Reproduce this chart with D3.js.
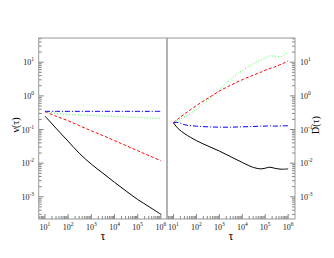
<!DOCTYPE html>
<html><head><meta charset="utf-8">
<script src="https://cdn.jsdelivr.net/npm/d3@7"></script>
<style>body{margin:0;background:#fff}svg{display:block}text{font-family:"Liberation Serif","DejaVu Serif",serif}</style>
</head><body>
<script>
// log10(tau) sample positions
const logTauL = [1,1.5,2,2.5,3,3.5,4,4.5,5,5.5,6];
// left panel: nu(tau), log10 values
const nuBlack = [-0.60,-0.98,-1.35,-1.72,-2.03,-2.30,-2.57,-2.83,-3.08,-3.30,-3.52];
const nuRed   = [-0.47,-0.61,-0.74,-0.89,-1.04,-1.18,-1.33,-1.48,-1.63,-1.78,-1.93];
const nuGreen = [-0.46,-0.52,-0.55,-0.57,-0.58,-0.60,-0.61,-0.63,-0.64,-0.66,-0.67];
const nuBlue  = [-0.46,-0.46,-0.46,-0.46,-0.46,-0.46,-0.46,-0.46,-0.46,-0.46,-0.46];
// right panel: D(tau)
const logTauR = [1,1.2,1.5,2,2.5,3,3.5,4,4.5,4.8,5,5.2,5.4,5.7,6];
const dBlack = [-0.80,-0.97,-1.13,-1.33,-1.49,-1.64,-1.81,-1.98,-2.13,-2.17,-2.15,-2.12,-2.15,-2.18,-2.17];
const dRed   = [-0.80,-0.68,-0.53,-0.29,-0.07,0.14,0.32,0.48,0.62,0.70,0.76,0.81,0.86,0.94,1.04];
const dGreen = [-0.80,-0.72,-0.62,-0.40,-0.12,0.17,0.50,0.75,0.96,1.06,1.12,1.19,1.18,1.16,1.30];
const dBlue  = [-0.80,-0.79,-0.86,-0.90,-0.92,-0.93,-0.93,-0.92,-0.91,-0.90,-0.90,-0.89,-0.90,-0.89,-0.89];
const xTicks = [1,2,3,4,5,6];
const yTicks = [-3,-2,-1,0,1];

const W=334,H=258;
const svg=d3.select("body").append("svg").attr("width",W).attr("height",H);
const y=d3.scaleLog().domain([Math.pow(10,-3.66),Math.pow(10,1.72)]).range([219,38]);
const xL=d3.scaleLog().domain([Math.pow(10,0.73),Math.pow(10,6.25)]).range([38.7,166.7]);
const xR=d3.scaleLog().domain([Math.pow(10,0.73),Math.pow(10,6.3)]).range([167.3,295]);
const frame="#999", tickC="#666";

function sup(sel, e){
  sel.append("tspan").text("10");
  sel.append("tspan").attr("dy",-4).attr("font-size",5.5).text(e);
}

function drawX(x){
  const g=svg.append("g");
  const [d0,d1]=x.domain();
  for(let k=0;k<=6;k++){
    for(let m=1;m<10;m++){
      const v=m*Math.pow(10,k);
      if(v<d0||v>d1) continue;
      const major=m===1;
      g.append("line").attr("x1",x(v)).attr("x2",x(v)).attr("y1",219).attr("y2",219-(major?5:3)).attr("stroke",tickC).attr("stroke-width",0.8);
    }
  }
  xTicks.forEach(e=>{
    const t=g.append("text").attr("x",x(Math.pow(10,e))).attr("y",230).attr("text-anchor","middle").attr("font-size",8).attr("fill","#222");
    sup(t,e);
  });
}
function drawY(xpos,dir,labelX,anchor){
  const g=svg.append("g");
  const [d0,d1]=y.domain();
  for(let k=-4;k<=2;k++){
    for(let m=1;m<10;m++){
      const v=m*Math.pow(10,k);
      if(v<d0||v>d1) continue;
      const major=m===1;
      g.append("line").attr("x1",xpos).attr("x2",xpos+dir*(major?5:3)).attr("y1",y(v)).attr("y2",y(v)).attr("stroke",tickC).attr("stroke-width",0.8);
    }
  }
  yTicks.forEach(e=>{
    const t=g.append("text").attr("x",labelX).attr("y",y(Math.pow(10,e))+3).attr("text-anchor",anchor).attr("font-size",8).attr("fill","#222");
    sup(t,e);
  });
}

drawX(xL); drawX(xR);
drawY(38.7,1,34,"end");
drawY(295,-1,300,"start");

// frame
svg.append("rect").attr("x",38.7).attr("y",38).attr("width",295-38.7).attr("height",181).attr("fill","none").attr("stroke",frame).attr("stroke-width",1);
svg.append("line").attr("x1",167).attr("x2",167).attr("y1",38).attr("y2",219).attr("stroke",frame).attr("stroke-width",1.5);

function series(x,xs,ys,color,dash){
  const line=d3.line().x((d,i)=>x(Math.pow(10,xs[i]))).y(d=>y(Math.pow(10,d))).curve(d3.curveCatmullRom.alpha(0.5));
  svg.append("path").attr("d",line(ys)).attr("fill","none").attr("stroke",color).attr("stroke-width",1).attr("stroke-dasharray",dash);
}
series(xL,logTauL,nuGreen,"#33ff33","1,2");
series(xL,logTauL,nuRed,"#ff0000","3,2");
series(xL,logTauL,nuBlue,"#0000ff","5,2,1,2");
series(xL,logTauL,nuBlack,"#000","none");
series(xR,logTauR,dGreen,"#33ff33","1,2");
series(xR,logTauR,dRed,"#ff0000","3,2");
series(xR,logTauR,dBlue,"#0000ff","5,2,1,2");
series(xR,logTauR,dBlack,"#000","none");

// axis titles
svg.append("text").attr("x",103).attr("y",240).attr("text-anchor","middle").attr("font-size",12).text("τ");
svg.append("text").attr("x",231).attr("y",240).attr("text-anchor","middle").attr("font-size",12).text("τ");
svg.append("text").attr("transform","translate(19,125) rotate(-90)").attr("text-anchor","middle").attr("font-size",10).text("ν(τ)");
svg.append("text").attr("transform","translate(319,125) rotate(-90)").attr("text-anchor","middle").attr("font-size",10).text("D(τ)");
</script>
</body></html>
